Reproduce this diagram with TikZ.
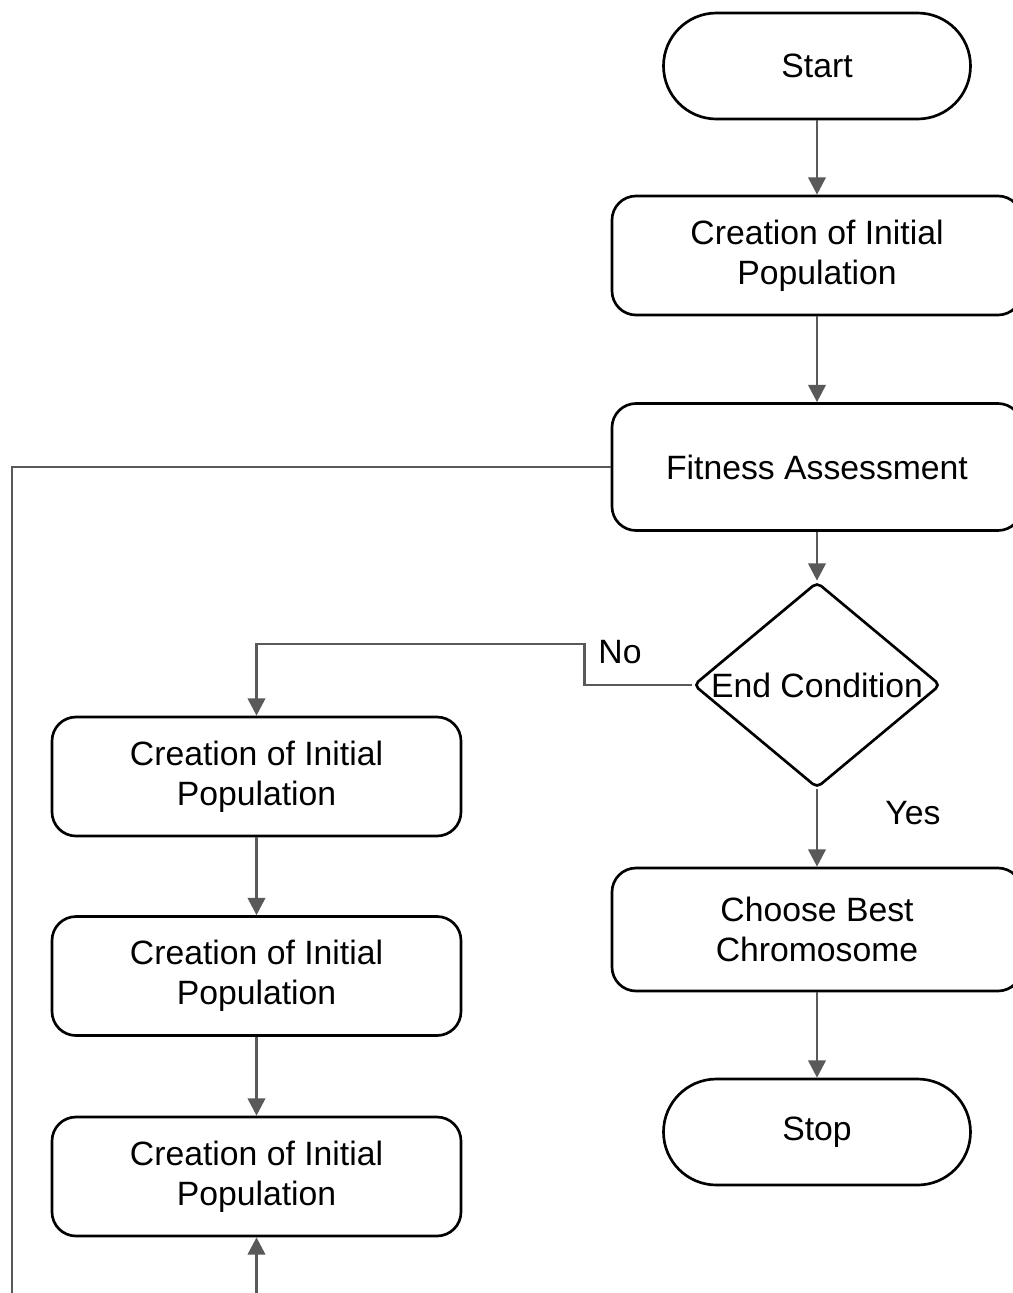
\documentclass[tikz,border=0pt]{standalone}
\usepackage{fontspec}
\setmainfont{Liberation Sans}
\usetikzlibrary{shapes.geometric,arrows.meta}
\definecolor{linegray}{HTML}{595959}
\begin{document}
\begin{tikzpicture}[x=0.75pt,y=-0.75pt,
  txt/.style={font=\fontsize{25.3}{30}\selectfont},
  box/.style={txt,draw=black,line width=2pt,rounded corners=18pt,fill=white,
    minimum width=307.5pt,align=center,inner sep=0pt},
  term/.style={txt,draw=black,line width=2pt,rounded corners=39.75pt,fill=white,
    minimum width=230.25pt,minimum height=79.5pt,inner sep=0pt},
  decision/.style={txt,draw=black,line width=2pt,diamond,rounded corners=4pt,fill=white,
    minimum width=185.25pt,minimum height=154.5pt,inner sep=0pt},
  conn/.style={draw=linegray,line width=2.2pt,-{Triangle[length=13pt,width=13pt]}},
  plainconn/.style={draw=linegray,line width=2.2pt},
]
\clip (0,0) rectangle (1013,1293);
\fill[white] (0,0) rectangle (1013,1293);

% right column
\node[term] (start) at (817,66) {Start};
\node[box,minimum height=89.25pt] (init) at (817,255.5) {Creation of Initial\\Population};
\node[box,minimum height=95.25pt] (fit) at (817,467) {Fitness Assessment};
\node[decision] (cond) at (817,685) {\makebox[0pt]{End Condition}};
\node[box,minimum height=92.25pt] (best) at (817,929.5) {Choose Best\\Chromosome};
\node[term] (stop) at (817,1132) {Stop};

% left column
\node[box,minimum width=306.75pt,minimum height=89.25pt] (l1) at (256.5,776.5) {Creation of Initial\\Population};
\node[box,minimum width=306.75pt,minimum height=89.25pt] (l2) at (256.5,976) {Creation of Initial\\Population};
\node[box,minimum width=306.75pt,minimum height=89.25pt] (l3) at (256.5,1176.5) {Creation of Initial\\Population};

% labels
\node[txt,inner sep=0pt] (no) at (620,652) {No};
\node[txt,inner sep=0pt] (yes) at (913,813) {Yes};

% free ends
\coordinate (loopend) at (12,1300);
\coordinate (bottomin) at (256.5,1300);

% connectors
\draw[conn] (start.south) -- (init.north);
\draw[conn] (init.south) -- (fit.north);
\draw[conn] (fit.south) -- (cond.north);
\draw[conn] (cond.south) -- (best.north);
\draw[conn] (best.south) -- (stop.north);
\draw[conn] (cond.west) -- ++(-108,0) -- ++(0,-41) -| (l1.north);
\draw[conn] (l1.south) -- (l2.north);
\draw[conn] (l2.south) -- (l3.north);
\draw[conn] (bottomin) -- (l3.south);
\draw[plainconn] (fit.west) -| (loopend);
\end{tikzpicture}
\end{document}
